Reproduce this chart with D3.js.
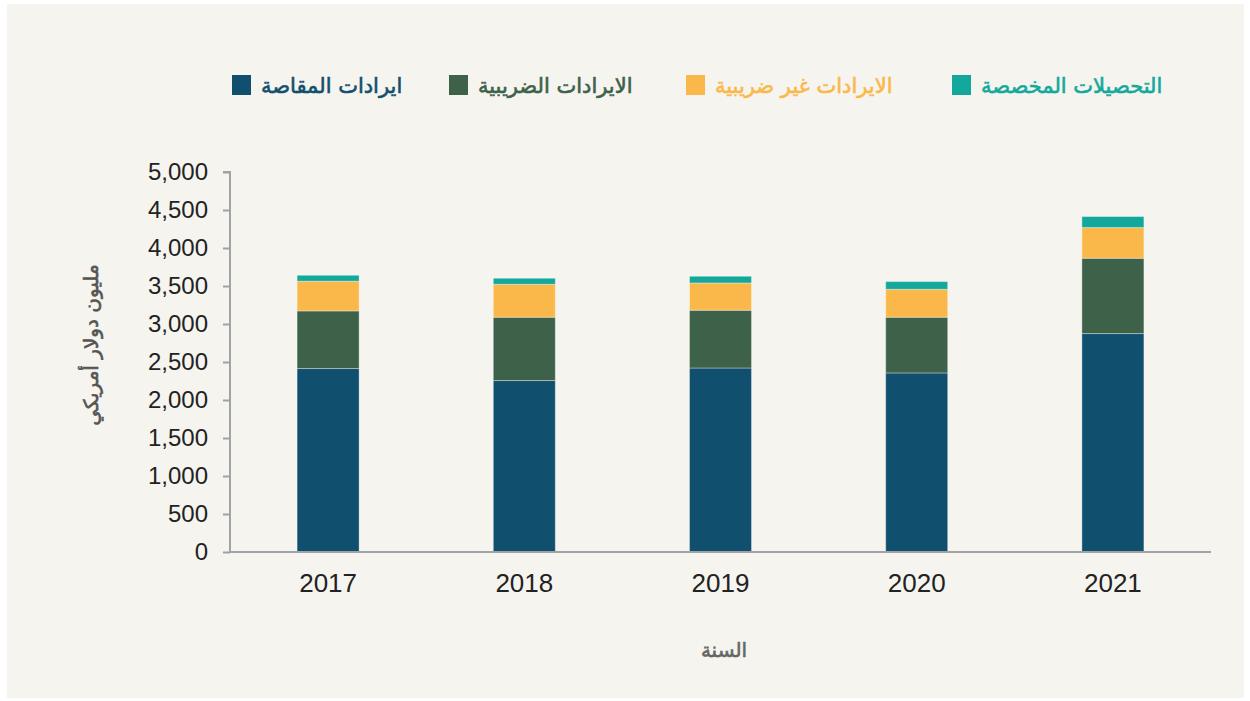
<!DOCTYPE html>
<html lang="ar">
<head>
    <meta charset="UTF-8">
    <title>الإيرادات</title>
    <style>
        body { margin: 0; padding: 0; background: #ffffff; }
        svg { display: block; }
        text { font-family: "Liberation Sans", Arial, sans-serif; }
        .ar { font-family: "DejaVu Sans", "Noto Sans", sans-serif; stroke-width: 0.6px; }
    </style>
</head>
<body>
    <svg id="chart" width="1250" height="701"></svg>

    <script src="https://d3js.org/d3.v7.min.js"></script>
    <script>
        // Data
        const years = ["2017", "2018", "2019", "2020", "2021"];
        const clearanceRevenue = [2414, 2256, 2421, 2356, 2874];   // ايرادات المقاصة
        const taxRevenue = [758, 833, 760, 733, 991];              // الايرادات الضريبية
        const nonTaxRevenue = [391, 434, 359, 368, 404];           // الايرادات غير ضريبية
        const earmarked = [78, 79, 88, 101, 145];                  // التحصيلات المخصصة
        const seriesNames = ["ايرادات المقاصة", "الايرادات الضريبية", "الايرادات غير ضريبية", "التحصيلات المخصصة"];
        const seriesColors = ["#114f6f", "#3e6149", "#fbb84a", "#14a89c"];
        const yTicks = [0, 500, 1000, 1500, 2000, 2500, 3000, 3500, 4000, 4500, 5000];

        const svg = d3.select("#chart");

        // background panel
        svg.append("rect")
            .attr("x", 7).attr("y", 4)
            .attr("width", 1237).attr("height", 694)
            .attr("fill", "#f5f4ef");

        const margin = { left: 230, right: 1211, top: 172, bottom: 552 };

        const rows = years.map((y, i) => ({
            year: y, s0: clearanceRevenue[i], s1: taxRevenue[i], s2: nonTaxRevenue[i], s3: earmarked[i]
        }));
        const keys = ["s0", "s1", "s2", "s3"];
        const stacked = d3.stack().keys(keys)(rows);

        const x = d3.scaleBand().domain(years).range([margin.left, margin.right]).paddingInner(0.684).paddingOuter(0.342);
        const y = d3.scaleLinear().domain([0, 5000]).range([margin.bottom, margin.top]);

        // bars
        svg.append("g").selectAll("g")
            .data(stacked)
            .enter()
            .append("g")
            .attr("fill", (d, i) => seriesColors[i])
            .selectAll("rect")
            .data(d => d)
            .enter()
            .append("rect")
            .attr("x", d => x(d.data.year))
            .attr("y", d => y(d[1]))
            .attr("width", x.bandwidth())
            .attr("height", d => y(d[0]) - y(d[1]))
            .attr("stroke", "rgba(255,255,255,0.35)")
            .attr("stroke-width", 1);

        // y axis
        const yAxis = svg.append("g")
            .attr("transform", `translate(${margin.left},0)`)
            .call(d3.axisLeft(y).tickValues(yTicks).tickSize(7).tickPadding(15).tickFormat(d3.format(",")));
        yAxis.select(".domain").attr("stroke", "#a0a3a6").attr("stroke-width", 2)
            .attr("d", `M-7,${y(5000)}H0V${y(0)}`);
        yAxis.selectAll(".tick line").attr("stroke", "#a0a3a6").attr("stroke-width", 2);
        yAxis.selectAll(".tick text")
            .attr("fill", "#222")
            .style("font-size", "24px")
            .style("font-family", "'Liberation Sans', Arial, sans-serif");

        // x axis
        const xAxis = svg.append("g")
            .attr("transform", `translate(0,${margin.bottom})`)
            .call(d3.axisBottom(x).tickSize(0).tickPadding(22));
        xAxis.select(".domain").attr("stroke", "#a0a3a6").attr("stroke-width", 2)
            .attr("d", `M${margin.left},0H${margin.right}`);
        xAxis.selectAll(".tick text")
            .attr("fill", "#222")
            .style("font-size", "26px")
            .style("font-family", "'Liberation Sans', Arial, sans-serif");

        // axis titles
        svg.append("text")
            .attr("class", "ar")
            .attr("transform", "translate(91,345) rotate(-90)")
            .attr("text-anchor", "middle")
            .attr("dominant-baseline", "central")
            .attr("fill", "#555")
            .attr("stroke", "#555")
            .style("font-size", "20px")
            .text("مليون دولار أمريكي");

        svg.append("text")
            .attr("class", "ar")
            .attr("x", 724).attr("y", 650)
            .attr("text-anchor", "middle")
            .attr("dominant-baseline", "central")
            .attr("fill", "#666")
            .attr("stroke", "#666")
            .style("font-size", "20px")
            .text("السنة");

        // legend
        const legendX = [232, 449, 686, 952];
        const legend = svg.append("g").selectAll("g")
            .data(seriesNames)
            .enter()
            .append("g")
            .attr("transform", (d, i) => `translate(${legendX[i]},75)`);
        legend.append("rect")
            .attr("width", 19).attr("height", 20)
            .attr("fill", (d, i) => seriesColors[i]);
        legend.append("text")
            .attr("class", "ar")
            .attr("x", 29).attr("y", 11)
            .attr("dominant-baseline", "central")
            .attr("fill", (d, i) => seriesColors[i])
            .attr("stroke", (d, i) => seriesColors[i])
            .style("font-size", "21px")
            .text(d => d);
    </script>
</body>
</html>
